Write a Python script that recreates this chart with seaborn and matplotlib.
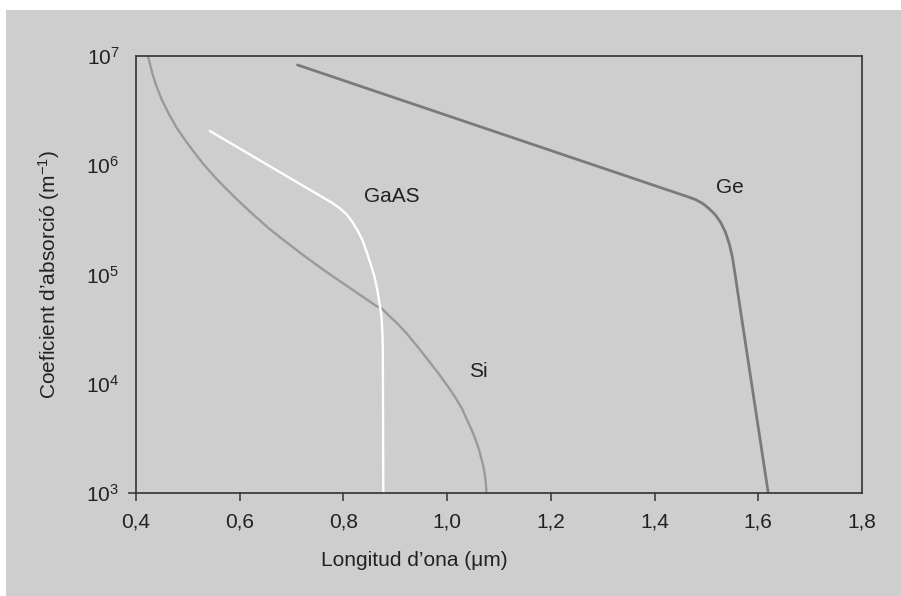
import numpy as np
import pandas as pd
import matplotlib
matplotlib.use("Agg")
import matplotlib.pyplot as plt
from matplotlib.patches import Rectangle
import seaborn as sns

# ---- data ----
si_x = [0.4231, 0.4308, 0.4385, 0.4500, 0.4635, 0.4788, 0.4962, 0.5135, 0.5288,
        0.5442, 0.5596, 0.5923, 0.6231, 0.6558, 0.6885, 0.7212, 0.7654, 0.8173,
        0.8615, 0.8750, 0.8885, 0.9000, 0.9200, 0.9404, 0.9615, 0.9846, 1.0038,
        1.0173, 1.0288, 1.0385, 1.0481, 1.0558, 1.0615, 1.0673, 1.0712, 1.0740,
        1.0760]
si_y = [1.0e7, 7.14e6, 5.43e6, 3.96e6, 2.94e6, 2.19e6, 1.66e6, 1.29e6, 1.04e6,
        8.59e5, 7.13e5, 4.99e5, 3.64e5, 2.65e5, 2.0e5, 1.52e5, 1.07e5, 7.26e4,
        5.22e4, 4.83e4, 4.17e4, 3.72e4, 2.96e4, 2.26e4, 1.69e4, 1.22e4, 9.1e3,
        7.3e3, 5.89e3, 4.66e3, 3.70e3, 2.99e3, 2.48e3, 1.96e3, 1.63e3, 1.32e3,
        1.0e3]

gaas_x = [0.5423, 0.7788, 0.7923, 0.8058, 0.8173, 0.8269, 0.8365, 0.8442, 0.8519,
          0.8596, 0.8654, 0.8692, 0.8731, 0.8750, 0.8760, 0.8769]
gaas_y = [2.06e6, 4.51e5, 4.06e5, 3.57e5, 3.02e5, 2.55e5, 2.07e5, 1.64e5, 1.27e5,
          9.7e4, 7.2e4, 5.6e4, 4.26e4, 3.1e4, 2.04e4, 1.0e3]

ge_x = [0.7115, 1.4654, 1.4808, 1.4942, 1.5058, 1.5173, 1.5269, 1.5365, 1.5442,
        1.5500, 1.5558, 1.5615, 1.5673, 1.6192]
ge_y = [8.28e6, 5.12e5, 4.81e5, 4.42e5, 3.98e5, 3.51e5, 3.03e5, 2.45e5, 1.90e5,
        1.45e5, 9.7e4, 6.35e4, 4.17e4, 1.0e3]

x_ticks = [0.4, 0.6, 0.8, 1.0, 1.2, 1.4, 1.6, 1.8]
x_tick_labels = ["0,4", "0,6", "0,8", "1,0", "1,2", "1,4", "1,6", "1,8"]
y_ticks = [1e3, 1e4, 1e5, 1e6, 1e7]
y_tick_labels = [r"$10^{3}$", r"$10^{4}$", r"$10^{5}$", r"$10^{6}$", r"$10^{7}$"]

labels = ["Si", "GaAS", "Ge"]
label_x = [1.060, 0.894, 1.546]
label_y = [1.3e4, 5.2e5, 6.3e5]

BG = "#cecece"

sns.set_style("white")
plt.rcParams["font.family"] = ["Liberation Sans", "DejaVu Sans"]
plt.rcParams["mathtext.fontset"] = "custom"
plt.rcParams["mathtext.rm"] = "Liberation Sans"
plt.rcParams["mathtext.it"] = "Liberation Sans:italic"
plt.rcParams["mathtext.bf"] = "Liberation Sans:bold"

fig = plt.figure(figsize=(9.01, 5.96), dpi=100, facecolor="white")
fig.patches.append(Rectangle((6 / 901, 0), 1 - 6 / 901, 586 / 596,
                             transform=fig.transFigure, facecolor=BG,
                             edgecolor="none", zorder=-10))
ax = fig.add_axes([136 / 901, 1 - 493 / 596, 726 / 901, 437 / 596])
ax.set_facecolor(BG)

df_si = pd.DataFrame({"x": si_x, "y": si_y})
df_ga = pd.DataFrame({"x": gaas_x, "y": gaas_y})
df_ge = pd.DataFrame({"x": ge_x, "y": ge_y})

sns.lineplot(data=df_si, x="x", y="y", ax=ax, color="#9a9a9a", lw=1.7,
             sort=False, estimator=None)
sns.lineplot(data=df_ga, x="x", y="y", ax=ax, color="#ffffff", lw=1.7,
             sort=False, estimator=None)
sns.lineplot(data=df_ge, x="x", y="y", ax=ax, color="#7a7a7a", lw=2.0,
             sort=False, estimator=None)

ax.set_yscale("log")
ax.set_xlim(0.4, 1.8)
ax.set_ylim(1e3, 1e7)
ax.set_xticks(x_ticks)
ax.set_xticklabels(x_tick_labels)
ax.set_yticks(y_ticks)
ax.set_yticklabels(y_tick_labels)
ax.yaxis.set_minor_locator(matplotlib.ticker.NullLocator())

ax.tick_params(axis="x", direction="out", length=6, width=1.1, color="#333333",
               pad=8, labelsize=15, labelcolor="#222222", bottom=True)
ax.tick_params(axis="y", direction="out", length=6, width=1.1, color="#333333",
               pad=6, labelsize=15, labelcolor="#222222", left=True)
yt = ax.yaxis.get_major_ticks()
for i, t in enumerate(yt):
    t.tick1line.set_visible(i == 0)
xt = ax.xaxis.get_major_ticks()
xt[-1].tick1line.set_visible(False)

for s in ax.spines.values():
    s.set_color("#333333")
    s.set_linewidth(1.2)

for t, lx, ly in zip(labels, label_x, label_y):
    ax.text(lx, ly, t, ha="center", va="center", fontsize=15, color="#222222")

ax.set_xlabel("Longitud d’ona (μm)", fontsize=15, color="#222222")
ax.xaxis.set_label_coords((414 - 136) / 726, (493 - 551) / 437)
ax.xaxis.label.set_va("top")
ax.set_ylabel("Coeficient d’absorció (m$^{-1}$)", fontsize=15, color="#222222")
ax.yaxis.set_label_coords((62 - 136) / 726, 0.5)

fig.savefig("out.png", dpi=100, facecolor="white")
